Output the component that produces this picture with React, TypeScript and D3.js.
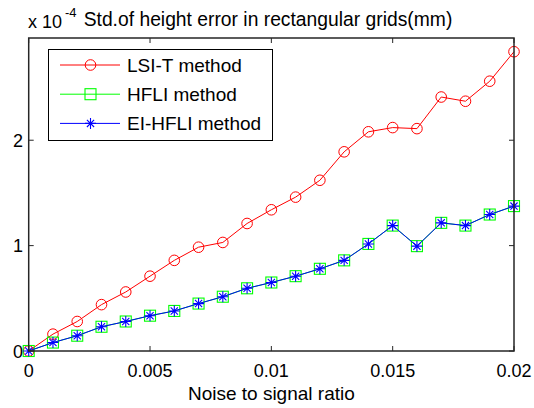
import React from "react";
import * as d3 from "d3";

const noiseRatio = [0, 0.001, 0.002, 0.003, 0.004, 0.005, 0.006, 0.007, 0.008, 0.009, 0.01, 0.011, 0.012, 0.013, 0.014, 0.015, 0.016, 0.017, 0.018, 0.019, 0.02];
const lsiT = [0.0, 0.16, 0.28, 0.44, 0.56, 0.71, 0.86, 0.985, 1.03, 1.21, 1.34, 1.46, 1.62, 1.89, 2.08, 2.12, 2.11, 2.41, 2.37, 2.56, 2.84];
const hfli = [0.0, 0.08, 0.145, 0.23, 0.28, 0.335, 0.38, 0.45, 0.515, 0.595, 0.65, 0.71, 0.78, 0.86, 1.016, 1.19, 0.995, 1.216, 1.19, 1.295, 1.375];
const eiHfli = [0.0, 0.08, 0.145, 0.23, 0.28, 0.335, 0.38, 0.45, 0.515, 0.595, 0.65, 0.71, 0.78, 0.86, 1.016, 1.19, 0.995, 1.216, 1.19, 1.295, 1.375];
const xTicks = [0, 0.005, 0.01, 0.015, 0.02];
const xTickLabels = ["0", "0.005", "0.01", "0.015", "0.02"];
const yTicks = [0, 1, 2];
const seriesNames = ["LSI-T method", "HFLI method", "EI-HFLI method"];

const W = 534, H = 408;
const L = 28.7, R = 514, T = 38, B = 351;
const FONT = "Arial, 'Liberation Sans', sans-serif";

function Marker({ kind, x, y, color }: { kind: string; x: number; y: number; color: string }) {
  if (kind === "circle") return <circle cx={x} cy={y} r={5.3} fill="none" stroke={color} strokeWidth={1} />;
  if (kind === "square") return <rect x={x - 5.5} y={y - 5.5} width={11} height={11} fill="none" stroke={color} strokeWidth={1.1} />;
  const r = 5.5, d = 3.6;
  return (
    <path
      d={`M${x},${y - r}V${y + r}M${x - r},${y}H${x + r}M${x - d},${y - d}L${x + d},${y + d}M${x - d},${y + d}L${x + d},${y - d}`}
      stroke={color}
      strokeWidth={1.1}
      fill="none"
    />
  );
}

export default function App() {
  const x = d3.scaleLinear().domain([0, 0.02]).range([L, R]);
  const y = d3.scaleLinear().domain([0, 2.97]).range([B, T]);
  const line = d3.line<number>().x((_, i) => x(noiseRatio[i])).y((v) => y(v));

  const series = [
    { name: seriesNames[0], data: lsiT, color: "#ff0000", kind: "circle" },
    { name: seriesNames[1], data: hfli, color: "#00ff00", kind: "square" },
    { name: seriesNames[2], data: eiHfli, color: "#0000ff", kind: "star" },
  ];
  const axisColor = "#262626";
  const tl = 5;

  return (
    <svg width={W} height={H} style={{ position: "absolute", left: 0, top: 0, background: "#fff" }} fontFamily={FONT}>
      <rect x={0} y={0} width={W} height={H} fill="#fff" />
      {series.map((s) => (
        <g key={s.name}>
          <path d={line(s.data) || ""} fill="none" stroke={s.color} strokeWidth={1} />
          {s.data.map((v, i) => (
            <Marker key={i} kind={s.kind} x={x(noiseRatio[i])} y={y(v)} color={s.color} />
          ))}
        </g>
      ))}
      <rect x={L} y={T} width={R - L} height={B - T} fill="none" stroke={axisColor} strokeWidth={1.5} />
      {xTicks.map((t, i) => (
        <g key={"x" + i}>
          <line x1={x(t)} x2={x(t)} y1={B} y2={B - tl} stroke={axisColor} strokeWidth={1} />
          <line x1={x(t)} x2={x(t)} y1={T} y2={T + tl} stroke={axisColor} strokeWidth={1} />
          <text x={x(t)} y={377} fontSize={18} textAnchor="middle" fill="#000">{xTickLabels[i]}</text>
        </g>
      ))}
      {yTicks.map((t, i) => (
        <g key={"y" + i}>
          <line x1={L} x2={L + tl} y1={y(t)} y2={y(t)} stroke={axisColor} strokeWidth={1} />
          <line x1={R} x2={R - tl} y1={y(t)} y2={y(t)} stroke={axisColor} strokeWidth={1} />
          <text x={23} y={y(t) + 6.5} fontSize={18} textAnchor="end" fill="#000">{String(t)}</text>
        </g>
      ))}
      <text x={28} y={28} fontSize={18} fill="#000">x 10</text>
      <text x={65} y={16.5} fontSize={13} fill="#000">-4</text>
      <text x={268} y={25.5} fontSize={19.3} textAnchor="middle" fill="#000">
        Std.of height error in rectangular grids(mm)
      </text>
      <text x={(L + R) / 2} y={400} fontSize={19} textAnchor="middle" fill="#000">Noise to signal ratio</text>
      <rect x={48.5} y={49.5} width={224} height={91} fill="#fff" stroke="#000" strokeWidth={1} />
      {series.map((s, i) => {
        const ry = 65 + i * 29.2;
        return (
          <g key={"lg" + i}>
            <line x1={60} x2={120} y1={ry} y2={ry} stroke={s.color} strokeWidth={1} />
            <Marker kind={s.kind} x={90.5} y={ry} color={s.color} />
            <text x={127} y={ry + 7} fontSize={19} fill="#000">{s.name}</text>
          </g>
        );
      })}
    </svg>
  );
}
